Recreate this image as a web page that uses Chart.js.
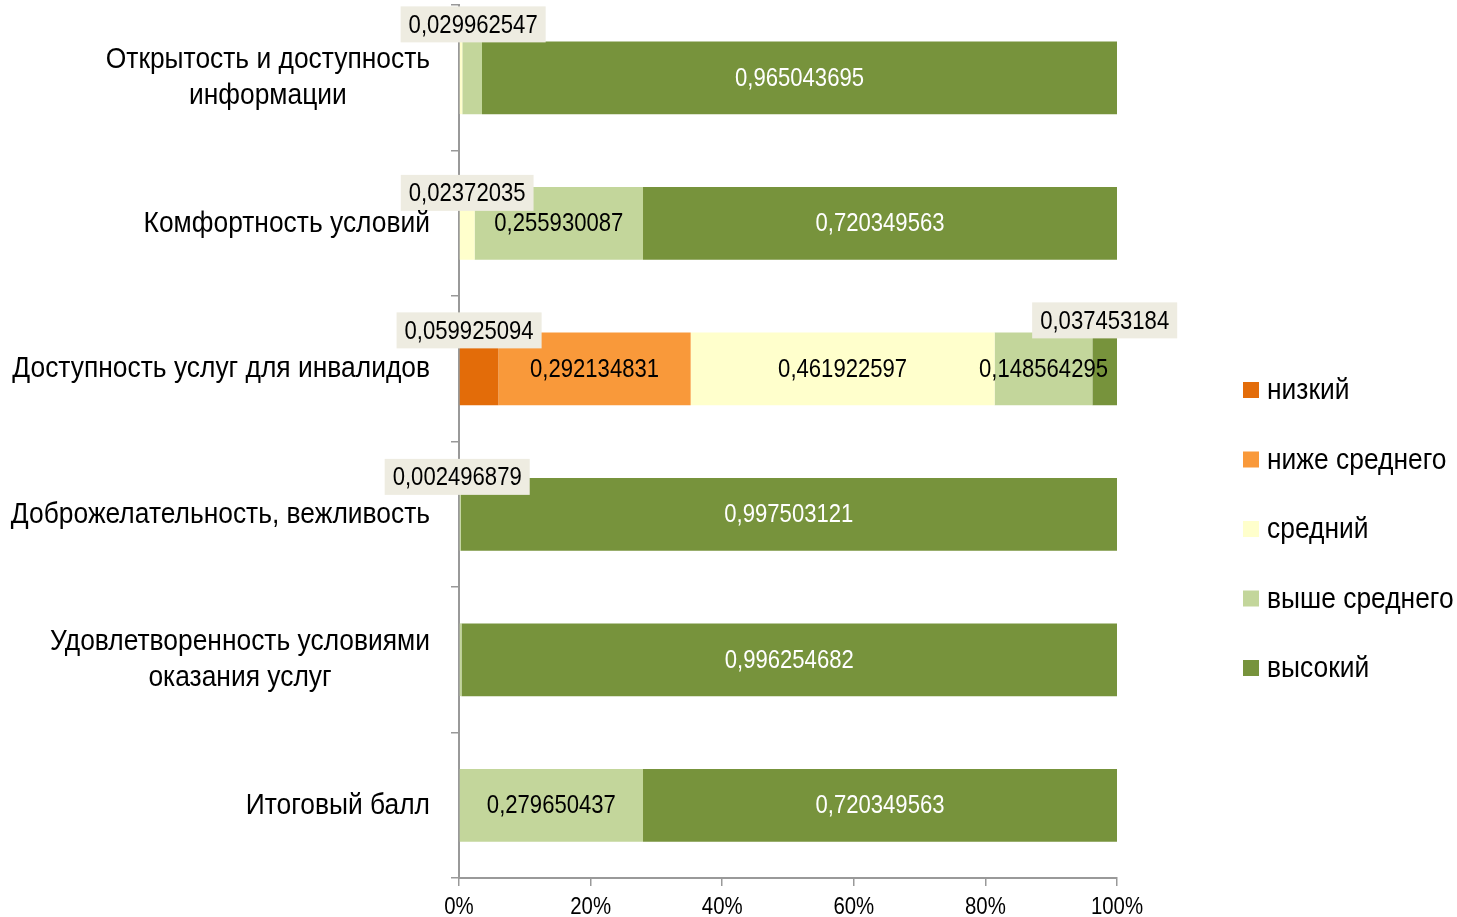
<!DOCTYPE html>
<html>
<head>
<meta charset="utf-8">
<script src="https://cdn.jsdelivr.net/npm/chart.js@4"></script>
<style>
  html, body { margin: 0; padding: 0; background: #fff; }
  #wrap { width: 1457px; height: 917px; position: relative; }
</style>
</head>
<body>
<div id="wrap"><canvas id="myChart"></canvas></div>
<script>
// categories (top to bottom)
const categories = [
  ["Открытость и доступность", "информации"],
  ["Комфортность условий"],
  ["Доступность услуг для инвалидов"],
  ["Доброжелательность, вежливость"],
  ["Удовлетворенность условиями", "оказания услуг"],
  ["Итоговый балл"],
];

// series names
const seriesNames = ["низкий", "ниже среднего", "средний", "выше среднего", "высокий"];

// shares per category
const lowValues = [0, 0, 0.059925094, 0, 0, 0];
const belowAvgValues = [0, 0, 0.292134831, 0, 0, 0];
const avgValues = [0.004993758, 0.02372035, 0.461922597, 0, 0, 0];
const aboveAvgValues = [0.029962547, 0.255930087, 0.148564295, 0.002496879, 0.003745318, 0.279650437];
const highValues = [0.965043695, 0.720349563, 0.037453184, 0.997503121, 0.996254682, 0.720349563];

// x axis tick labels
const xTickLabels = ["0%", "20%", "40%", "60%", "80%", "100%"];

const colors = ["#E36C09", "#F9993A", "#FFFFCC", "#C3D69B", "#77933C"];
const FONT = "'Liberation Sans', Arial, sans-serif";

// labels that are not shown (dataset-index)
const hiddenLabels = ["2-0", "3-4"];
// labels moved into boxes above the bar: offset of text centre from segment centre / bar top
const boxedLabels = {
  "3-0": { dx: 1, dy: -17 },
  "2-1": { dx: 0, dy: 6 },
  "0-2": { dx: -10, dy: -2 },
  "4-2": { dx: 0, dy: -12 },
  "3-3": { dx: -3, dy: -1 },
};

const fmt = (v) => String(v).replace(".", ",");

// draw condensed text (Arial Narrow look); align = left | center | right
function narrowText(c, text, x, y, size, align, sx) {
  c.font = size + "px " + FONT;
  const w = c.measureText(text).width * sx;
  let x0 = x;
  if (align === "center") x0 = x - w / 2;
  if (align === "right") x0 = x - w;
  c.save();
  c.translate(x0, y);
  c.scale(sx, 1);
  c.textAlign = "left";
  c.textBaseline = "middle";
  c.fillText(text, 0, 0);
  c.restore();
  return w;
}
function narrowWidth(c, text, size, sx) {
  c.font = size + "px " + FONT;
  return c.measureText(text).width * sx;
}

const valueLabels = {
  id: "valueLabels",
  afterDatasetsDraw(chart) {
    const c = chart.ctx;
    c.save();
    chart.data.datasets.forEach((ds, di) => {
      const meta = chart.getDatasetMeta(di);
      meta.data.forEach((bar, i) => {
        const v = ds.data[i];
        const key = di + "-" + i;
        if (!v || hiddenLabels.includes(key)) return;
        const cx = (bar.x + bar.base) / 2;
        const text = fmt(v);
        const box = boxedLabels[key];
        if (box) {
          const top = bar.y - bar.height / 2;
          const tx = cx + box.dx;
          const ty = top + box.dy;
          const w = narrowWidth(c, text, 26, 0.85) + 16;
          c.fillStyle = "#EEECE1";
          c.fillRect(tx - w / 2, ty - 18, w, 36);
          c.fillStyle = "#000";
          narrowText(c, text, tx, ty + 1, 26, "center", 0.85);
        } else {
          c.fillStyle = di === 4 ? "#fff" : "#000";
          narrowText(c, text, cx, bar.y + 1, 26, "center", 0.85);
        }
      });
    });
    c.restore();
  },
};

// category labels, multi-line labels centred as a block; x tick labels
const axisLabels = {
  id: "axisLabels",
  afterDraw(chart) {
    const c = chart.ctx;
    const y = chart.scales.y;
    const x = chart.scales.x;
    c.save();
    c.fillStyle = "#000";
    const right = 430;
    const lh = 36;
    categories.forEach((lines, i) => {
      const py = y.getPixelForValue(i);
      const w = Math.max(...lines.map((l) => narrowWidth(c, l, 30, 0.88)));
      const cx = right - w / 2;
      const y0 = py - ((lines.length - 1) * lh) / 2;
      lines.forEach((l, k) => narrowText(c, l, cx, y0 + k * lh, 30, "center", 0.88));
    });
    xTickLabels.forEach((t, i) => {
      narrowText(c, t, x.getPixelForValue(i * 0.2), 907, 24, "center", 0.85);
    });
    c.restore();
  },
};

// legend on the right
const sideLegend = {
  id: "sideLegend",
  afterDraw(chart) {
    const c = chart.ctx;
    c.save();
    seriesNames.forEach((name, i) => {
      const y = 390 + i * 69.5;
      c.fillStyle = colors[i];
      c.fillRect(1243, y - 8, 16, 16);
      c.fillStyle = "#000";
      narrowText(c, name, 1267, y + 1, 30, "left", 0.88);
    });
    c.restore();
  },
};

const ctx = document.getElementById("myChart");
const seriesValues = [lowValues, belowAvgValues, avgValues, aboveAvgValues, highValues];

new Chart(ctx, {
  type: "bar",
  data: {
    labels: categories.map((l) => l.join(" ")),
    datasets: seriesValues.map((vals, i) => ({
      label: seriesNames[i],
      data: vals,
      backgroundColor: colors[i],
      borderWidth: 0,
      categoryPercentage: 1,
      barPercentage: 0.5,
    })),
  },
  options: {
    indexAxis: "y",
    responsive: true,
    maintainAspectRatio: false,
    animation: false,
    layout: { padding: { top: 5, right: 340, left: 0, bottom: 0 } },
    scales: {
      x: {
        stacked: true,
        min: 0,
        max: 1,
        ticks: { stepSize: 0.2, display: false },
        grid: { drawOnChartArea: false, tickLength: 8, color: "#999", lineWidth: 1.5 },
        border: { color: "#999", width: 2 },
        afterFit: (s) => { s.height = 39; },
      },
      y: {
        stacked: true,
        ticks: { display: false },
        grid: { drawOnChartArea: false, tickLength: 8, color: "#999", lineWidth: 1.5, offset: true },
        border: { color: "#999", width: 2 },
        afterFit: (s) => { s.width = 459; },
      },
    },
    plugins: {
      legend: { display: false },
      tooltip: { enabled: false },
    },
  },
  plugins: [valueLabels, axisLabels, sideLegend],
});
</script>
</body>
</html>
